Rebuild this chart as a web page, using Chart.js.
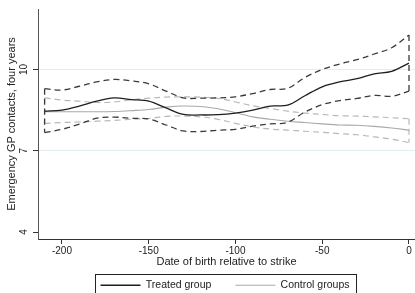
<!DOCTYPE html>
<html><head><meta charset="utf-8">
<script src="https://cdn.jsdelivr.net/npm/chart.js@4/dist/chart.umd.min.js"></script>
<style>html,body{margin:0;padding:0;background:#fff}#wrap{width:415px;height:293px;position:relative}</style>
</head><body><div id="wrap"><canvas id="c"></canvas></div>
<script>
const days = [-210,-200,-190,-180,-170,-160,-150,-140,-130,-120,-110,-100,-90,-80,-70,-60,-50,-40,-30,-20,-10,0];
const treatedMean  = [8.46,8.50,8.65,8.83,8.95,8.89,8.83,8.58,8.34,8.32,8.33,8.39,8.50,8.65,8.68,9.03,9.36,9.54,9.66,9.84,9.93,10.23];
const treatedUpper = [9.29,9.24,9.38,9.54,9.63,9.58,9.47,9.20,8.95,8.94,8.95,8.99,9.11,9.26,9.30,9.70,10.00,10.20,10.36,10.57,10.80,11.27];
const treatedLower = [7.67,7.79,7.98,8.20,8.24,8.20,8.17,7.95,7.73,7.71,7.76,7.79,7.91,7.99,8.05,8.43,8.70,8.85,8.93,9.04,9.01,9.20];
const controlMean  = [8.44,8.44,8.44,8.44,8.45,8.48,8.52,8.61,8.65,8.63,8.55,8.40,8.25,8.16,8.09,8.04,7.99,7.95,7.94,7.90,7.84,7.76];
const controlUpper = [8.95,8.87,8.83,8.78,8.80,8.88,8.94,8.98,8.99,8.98,8.93,8.80,8.66,8.56,8.46,8.39,8.34,8.29,8.28,8.25,8.22,8.18];
const controlLower = [8.01,8.04,8.06,8.09,8.12,8.16,8.19,8.27,8.28,8.25,8.16,8.01,7.88,7.80,7.76,7.72,7.68,7.63,7.59,7.51,7.43,7.30];
const xTicks = [-200,-150,-100,-50,0];
const yTicks = [4,7,10];
const seriesNames = ['Treated group','Control groups'];
const xTitle = 'Date of birth relative to strike';
const yTitle = 'Emergency GP contacts, four years';

const FONT = "'Liberation Sans', Arial, Helvetica, sans-serif";
Chart.defaults.font.family = FONT;
Chart.defaults.color = '#222';

const pts = ys => days.map((d,i)=>({x:d, y:ys[i]}));
const cap = (i, up, lo) => [{x:days[i], y:up[i]}, {x:days[i], y:lo[i]}];
const last = days.length - 1;

const TREAT = '#1e1e1e', TREAT_CI = '#3a3a3a', CTRL = '#a9a9a9', CTRL_CI = '#b8b8b8';
function line(label, data, color, width, dash, tension){
  return {label, data, borderColor: color, backgroundColor: color, borderWidth: width,
    borderDash: dash || [], pointRadius: 0, pointHoverRadius: 0, pointStyle: 'line',
    showLine: true, fill: false, tension: tension === undefined ? 0.35 : tension};
}
const ciDash = [6,4];
const datasets = [
  line(seriesNames[0], pts(treatedMean), TREAT, 1.3),
  line('', pts(treatedUpper), TREAT_CI, 1.3, ciDash),
  line('', pts(treatedLower), TREAT_CI, 1.3, ciDash),
  line('', cap(0, treatedUpper, treatedLower), TREAT_CI, 1.3, ciDash, 0),
  line('', cap(last, treatedUpper, treatedLower), TREAT_CI, 1.3, ciDash, 0),
  line(seriesNames[1], pts(controlMean), CTRL, 1.1),
  line('', pts(controlUpper), CTRL_CI, 1.2, ciDash),
  line('', pts(controlLower), CTRL_CI, 1.2, ciDash),
  line('', cap(0, controlUpper, controlLower), CTRL_CI, 1.2, ciDash, 0),
  line('', cap(last, controlUpper, controlLower), CTRL_CI, 1.2, ciDash, 0),
];

const legendFrame = {
  id: 'legendFrame',
  afterLayout(chart){
    const lg = chart.legend, ca = chart.chartArea;
    lg.left = ca.left - 3; lg.right = ca.right; lg.width = lg.right - lg.left;
    const P = lg.options.labels.padding;
    lg.top = 280 - P; 
  },
  afterDraw(chart){
    const lg = chart.legend;
    const P = lg.options.labels.padding;
    const lw = lg.lineWidths[0];
    const start = (lg.left + P + lg.right - lw) / 2;
    const end = start + lw - P;
    const ctx = chart.ctx;
    ctx.save();
    ctx.strokeStyle = '#222'; ctx.lineWidth = 1;
    ctx.strokeRect(Math.round(start - 6) + 0.5, Math.round(lg.top + P - 6) + 0.5, Math.round(end - start + 12), 40);
    ctx.restore();
  }
};

new Chart(document.getElementById('c'), {
  type: 'scatter',
  data: {datasets},
  plugins: [legendFrame],
  options: {
    responsive: true, maintainAspectRatio: false, animation: false, devicePixelRatio: 1,
    layout: {padding: {top: 7, right: 0, left: 0, bottom: 0}},
    plugins: {
      tooltip: {enabled: false},
      legend: {
        position: 'bottom', maxHeight: 18,
        labels: {
          usePointStyle: true, pointStyleWidth: 40, padding: 24, color: '#222',
          font: {size: 10.5, family: FONT},
          filter: item => item.text !== ''
        }
      }
    },
    scales: {
      x: {
        type: 'linear', min: -213.8, max: 3.46,
        afterBuildTicks: s => { s.ticks = xTicks.map(v => ({value: v})); },
        afterFit: s => { s.height = 36; },
        grid: {drawOnChartArea: false, color: 'transparent', tickColor: '#333', tickLength: 5},
        border: {color: '#333', width: 1},
        ticks: {font: {size: 10}, color: '#222', padding: 1, maxRotation: 0},
        title: {display: true, text: xTitle, font: {size: 11}, color: '#222', padding: {top: 0, bottom: 6}}
      },
      y: {
        type: 'linear', min: 3.744, max: 12.23,
        afterBuildTicks: s => { s.ticks = yTicks.map(v => ({value: v})); },
        afterFit: s => { s.width = 38; },
        grid: {color: c => (c.tick && c.tick.value === yTicks[0]) ? 'transparent' : '#e3edf2', tickColor: '#333', tickLength: 5},
        border: {color: '#555', width: 1},
        ticks: {font: {size: 10}, color: '#222', padding: 3, minRotation: 90, maxRotation: 90, crossAlign: 'center'},
        title: {display: true, text: yTitle, font: {size: 11}, color: '#222', padding: {top: 5, bottom: 0}}
      }
    }
  }
});
</script></body></html>
